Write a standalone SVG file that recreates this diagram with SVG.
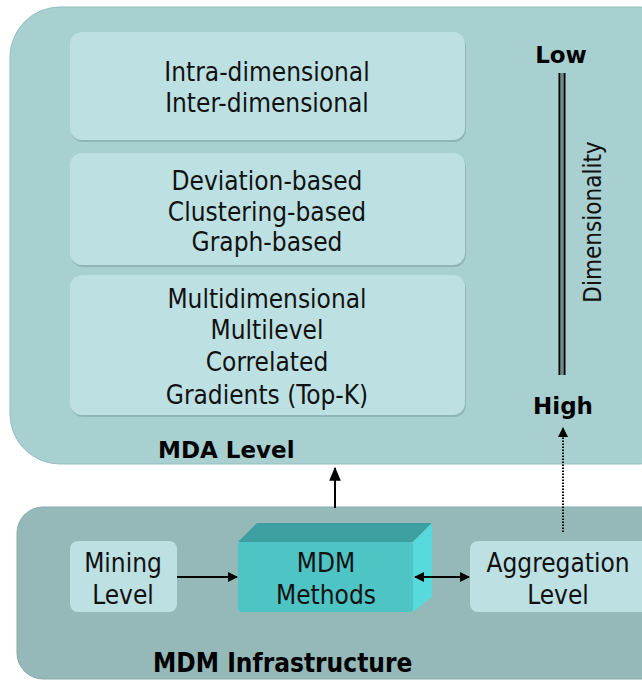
<svg xmlns="http://www.w3.org/2000/svg" width="642" height="682" viewBox="0 0 642 682">
  <defs>
    <style>
      .panel-top { fill: #a8d0d1; stroke: #93bfc0; stroke-width: 1; }
      .panel-bot { fill: #95b9b9; stroke: #86abab; stroke-width: 1; }
      .card { fill: #bde1e3; }
      .card-shadow { fill: #8fb5b7; }
      .leaf { fill: #bde0e2; }
      .txt { font-family: "DejaVu Sans Condensed", "DejaVu Sans", sans-serif; font-size: 26px; fill: #111; text-anchor: middle; }
      .title { font-family: "DejaVu Sans", sans-serif; font-weight: bold; font-size: 23px; fill: #000; }
      .title-c { font-family: "DejaVu Sans Condensed", "DejaVu Sans", sans-serif; font-weight: bold; font-size: 26px; fill: #000; }
      .axis { font-family: "DejaVu Sans", sans-serif; font-weight: bold; font-size: 23px; fill: #000; text-anchor: middle; }
      .link { stroke: #000; stroke-width: 2; fill: none; }
    </style>
    <marker id="head" viewBox="0 0 10 10" refX="9" refY="5" markerWidth="5" markerHeight="5" orient="auto-start-reverse">
      <path d="M0,0 L10,5 L0,10 z" fill="#000"/>
    </marker>
    <marker id="head-lg" viewBox="0 0 12 10" refX="11" refY="5" markerWidth="7" markerHeight="6" orient="auto">
      <path d="M0,0 L12,5 L0,10 z" fill="#000"/>
    </marker>
  </defs>

  <rect width="642" height="682" fill="#ffffff"/>

  <!-- MDA level panel -->
  <g id="mda-level">
    <rect x="10" y="7" width="680" height="457" rx="50" ry="50" class="panel-top"/>
    <text x="158" y="458" class="title">MDA Level</text>
  </g>

  <!-- technique groups -->
  <g id="group-dimensional">
    <rect x="71" y="34" width="395" height="108" rx="12" class="card-shadow"/>
    <rect x="70" y="32" width="395" height="108" rx="12" class="card"/>
    <text x="267" y="81" class="txt">Intra-dimensional</text>
    <text x="267" y="112" class="txt">Inter-dimensional</text>
  </g>

  <g id="group-based">
    <rect x="71" y="155" width="395" height="112" rx="12" class="card-shadow"/>
    <rect x="70" y="153" width="395" height="112" rx="12" class="card"/>
    <text x="267" y="190" class="txt">Deviation-based</text>
    <text x="267" y="221" class="txt">Clustering-based</text>
    <text x="267" y="251" class="txt">Graph-based</text>
  </g>

  <g id="group-multi">
    <rect x="71" y="277" width="395" height="140" rx="12" class="card-shadow"/>
    <rect x="70" y="275" width="395" height="140" rx="12" class="card"/>
    <text x="267" y="308" class="txt">Multidimensional</text>
    <text x="267" y="339" class="txt">Multilevel</text>
    <text x="267" y="371" class="txt">Correlated</text>
    <text x="267" y="404" class="txt">Gradients (Top-K)</text>
  </g>

  <!-- dimensionality scale: double rule between Low and High -->
  <g id="dimensionality">
    <text x="561" y="63" class="axis">Low</text>
    <line x1="562" y1="73" x2="562" y2="375" stroke="#6e8a8b" stroke-width="2"/>
    <line x1="559.5" y1="73" x2="559.5" y2="375" stroke="#000" stroke-width="2"/>
    <line x1="564.5" y1="73" x2="564.5" y2="375" stroke="#000" stroke-width="2"/>
    <text x="563" y="414" class="axis">High</text>
    <text transform="translate(601,222) rotate(-90)" class="txt" style="font-size:24px">Dimensionality</text>
  </g>

  <!-- MDM infrastructure panel -->
  <g id="mdm-infrastructure">
    <rect x="17" y="507" width="680" height="172" rx="26" ry="26" class="panel-bot"/>
    <text x="153" y="672" class="title-c">MDM Infrastructure</text>
  </g>

  <g id="mining-level">
    <rect x="70" y="541" width="107" height="71" rx="8" class="leaf"/>
    <text x="123" y="572" class="txt">Mining</text>
    <text x="123" y="604" class="txt">Level</text>
  </g>

  <g id="mdm-methods">
    <polygon points="238,542 257,523 432,523 413,542" fill="#3e9fa1"/>
    <polygon points="413,542 432,523 432,597 413,612" fill="#58d9dc"/>
    <rect x="238" y="542" width="175" height="70" rx="4" fill="#4ec4c5"/>
    <text x="326" y="572" class="txt">MDM</text>
    <text x="326" y="604" class="txt">Methods</text>
  </g>

  <g id="aggregation-level">
    <rect x="470" y="541" width="200" height="71" rx="8" class="leaf"/>
    <text x="558" y="572" class="txt">Aggregation</text>
    <text x="558" y="604" class="txt">Level</text>
  </g>

  <!-- connectors -->
  <g id="connectors">
    <line x1="177" y1="577" x2="237" y2="577" class="link" marker-end="url(#head)"/>
    <line x1="415" y1="577" x2="469" y2="577" class="link" marker-start="url(#head)" marker-end="url(#head)"/>
    <line x1="335" y1="508" x2="335" y2="468" class="link" stroke-width="2.5" marker-end="url(#head-lg)"/>
    <line x1="563" y1="532" x2="563" y2="428" stroke="#000" stroke-width="2" stroke-dasharray="1.5 1.5" marker-end="url(#head)"/>
  </g>
</svg>
